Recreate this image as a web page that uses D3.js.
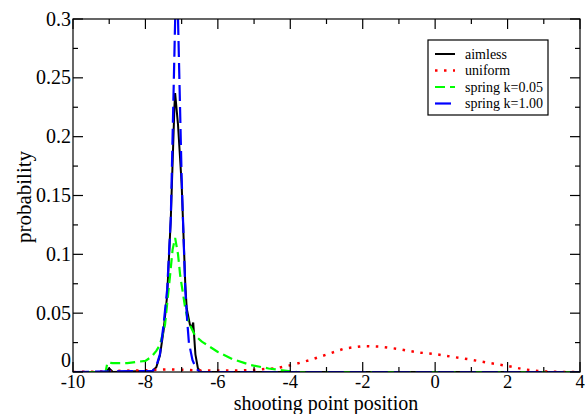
<!DOCTYPE html>
<html><head><meta charset="utf-8">
<script src="https://cdn.jsdelivr.net/npm/d3@7"></script>
<style>body{margin:0;background:#fff}svg{display:block}text{font-family:"Liberation Serif","Times New Roman",serif}</style>
</head><body><svg id="c" width="585" height="414"></svg>
<script>
// ---- data ----
const aimlessX = [-10,-9.1,-9.0,-8.9,-7.8,-7.7,-7.6,-7.5,-7.4,-7.3,-7.2,-7.18,-7.1,-7.0,-6.9,-6.86,-6.77,-6.72,-6.68,-6.62,-6.55,-6.45,4];
const aimlessY = [0,0,0.003,0,0.001,0.004,0.014,0.035,0.065,0.13,0.225,0.237,0.21,0.16,0.075,0.054,0.04,0.038,0.042,0.015,0.003,0,0];
const uniformX = [-10,-9,-8.7,-8,-7.4,-7,-6.5,-6,-5.5,-5,-4.7,-4.4,-4.2,-3.95,-3.45,-2.95,-2.5,-2.0,-1.5,-1.0,-0.5,0,0.45,0.95,1.45,2.0,2.45,2.95,3.5,4];
const uniformY = [0,0.0005,0.001,0.0015,0.0022,0.002,0.0012,0.0012,0.0012,0.0018,0.0025,0.003,0.0045,0.006,0.0102,0.0153,0.0200,0.0220,0.0215,0.0195,0.0167,0.0153,0.013,0.0107,0.0079,0.0051,0.0023,0.0006,0,0];
const spring005X = [-10,-9.1,-9.05,-8.9,-8.5,-8.0,-7.83,-7.7,-7.6,-7.46,-7.32,-7.25,-7.18,-7.1,-7.04,-6.9,-6.82,-6.63,-6.45,-6.4,-6.0,-5.6,-5.1,-4.6,-4.1,-3.8,4];
const spring005Y = [0,0,0.008,0.0075,0.0075,0.0095,0.013,0.018,0.023,0.04,0.082,0.104,0.114,0.1,0.082,0.054,0.043,0.031,0.026,0.025,0.017,0.011,0.006,0.003,0.001,0,0];
const spring100X = [-10,-7.8,-7.7,-7.6,-7.5,-7.4,-7.3,-7.2,-7.15,-7.1,-7.0,-6.9,-6.85,-6.8,-6.7,-6.6,-6.5,4];
const spring100Y = [0,0.001,0.005,0.015,0.04,0.07,0.13,0.27,0.34,0.3,0.165,0.07,0.045,0.025,0.01,0.003,0,0];
const seriesNames = ["aimless","uniform","spring k=0.05","spring k=1.00"];
const xTicks = [-10,-8,-6,-4,-2,0,2,4];
const yTicks = [0,0.05,0.1,0.15,0.2,0.25,0.3];
const yTickLabels = ["0","0.05","0.1","0.15","0.2","0.25","0.3"];
const xTitle = "shooting point position";
const yTitle = "probability";

// ---- drawing ----
const svg = d3.select("#c");
const L=73, R=580, T=19, B=372;
const x = d3.scaleLinear().domain([-10,4]).range([L,R]);
const y = d3.scaleLinear().domain([0,0.3]).range([B,T]);

svg.append("defs").append("clipPath").attr("id","clip")
  .append("rect").attr("x",L).attr("y",T).attr("width",R-L).attr("height",B-T);

const zip = (xs,ys)=>xs.map((v,i)=>[v,ys[i]]);
const series = [
  {d:zip(aimlessX,aimlessY), color:"#000", dash:null, w:2},
  {d:zip(uniformX,uniformY), color:"#ff0000", dash:"2.5,6.5", w:2.5},
  {d:zip(spring005X,spring005Y), color:"#00ff00", dash:"10,5", w:2.2},
  {d:zip(spring100X,spring100Y), color:"#0000ff", dash:"16,6", w:2.2}
];
const line = d3.line().x(d=>x(d[0])).y(d=>y(d[1]));
const g = svg.append("g").attr("clip-path","url(#clip)");
series.forEach(s=>{
  g.append("path").attr("d",line(s.d)).attr("fill","none")
   .attr("stroke",s.color).attr("stroke-width",s.w)
   .attr("stroke-dasharray",s.dash);
});

// frame
svg.append("rect").attr("x",L).attr("y",T).attr("width",R-L).attr("height",B-T)
  .attr("fill","none").attr("stroke","#000").attr("stroke-width",1.2);

// ticks (inward, on all four sides)
const xMinor = d3.range(-9,4,2);
const yMinor = d3.range(0.025,0.3,0.05);
const tk = svg.append("g").attr("stroke","#000").attr("stroke-width",1.2);
xTicks.forEach(v=>{
  tk.append("line").attr("x1",x(v)).attr("x2",x(v)).attr("y1",B).attr("y2",B-10);
  tk.append("line").attr("x1",x(v)).attr("x2",x(v)).attr("y1",T).attr("y2",T+10);
});
xMinor.forEach(v=>{
  tk.append("line").attr("x1",x(v)).attr("x2",x(v)).attr("y1",B).attr("y2",B-5);
  tk.append("line").attr("x1",x(v)).attr("x2",x(v)).attr("y1",T).attr("y2",T+5);
});
yTicks.forEach(v=>{
  tk.append("line").attr("x1",L).attr("x2",L+10).attr("y1",y(v)).attr("y2",y(v));
  tk.append("line").attr("x1",R).attr("x2",R-10).attr("y1",y(v)).attr("y2",y(v));
});
yMinor.forEach(v=>{
  tk.append("line").attr("x1",L).attr("x2",L+5).attr("y1",y(v)).attr("y2",y(v));
  tk.append("line").attr("x1",R).attr("x2",R-5).attr("y1",y(v)).attr("y2",y(v));
});

// tick labels
xTicks.forEach(v=>{
  svg.append("text").attr("x",x(v)).attr("y",B+16).attr("text-anchor","middle")
    .attr("font-size",18.5).text(String(v));
});
yTicks.forEach((v,i)=>{
  svg.append("text").attr("x",L-2).attr("y",v===0 ? 367 - 6.6 : y(v)).attr("dy","0.33em").attr("text-anchor","end")
    .attr("font-size",20).text(yTickLabels[i]);
});
svg.append("text").attr("x",326).attr("y",409.7).attr("text-anchor","middle")
  .attr("font-size",20).text(xTitle);
svg.append("text").attr("transform","translate(31,197) rotate(-90)").attr("text-anchor","middle")
  .attr("font-size",21).text(yTitle);

// legend
const lg = svg.append("g");
lg.append("rect").attr("x",428).attr("y",40).attr("width",120).attr("height",75)
  .attr("fill","#fff").attr("stroke","#000").attr("stroke-width",1.2);
series.forEach((s,i)=>{
  const yy = 54 + i*16.5;
  lg.append("line").attr("x1",435).attr("x2",455).attr("y1",yy).attr("y2",yy)
    .attr("stroke",s.color).attr("stroke-width",s.w).attr("stroke-dasharray",s.dash);
  lg.append("text").attr("x",465).attr("y",yy).attr("dy","0.33em").attr("font-size",14)
    .text(seriesNames[i]);
});
</script></body></html>
